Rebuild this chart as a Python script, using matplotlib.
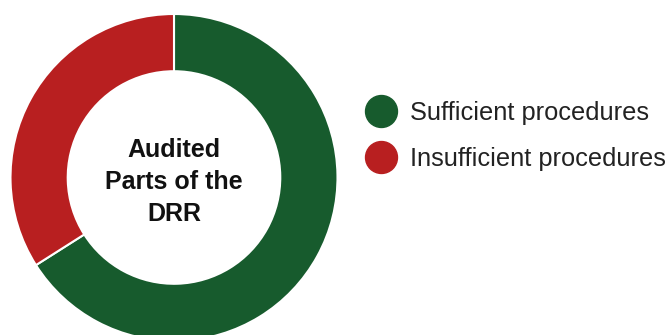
import matplotlib
matplotlib.use("Agg")
import matplotlib.pyplot as plt
from matplotlib.lines import Line2D

plt.rcParams['font.family'] = ['Liberation Sans', 'DejaVu Sans']

# share of audited parts of the DRR
labels = ["Sufficient procedures", "Insufficient procedures"]
values = [66, 34]
colors = ["#175b2d", "#b81f20"]
center_label = "Audited\nParts of the\nDRR"

W, H = 671, 335
fig = plt.figure(figsize=(W / 100, H / 100), dpi=100)

# donut: centre at (174, 177.5) px, outer radius 163.5 px
cx, cy, r = 174, 177.5, 163.5
ax = fig.add_axes([(cx - r) / W, (H - cy - r) / H, 2 * r / W, 2 * r / H])
ax.pie(values, colors=colors, startangle=90, counterclock=False, radius=1,
       wedgeprops=dict(width=0.35, edgecolor="white", linewidth=1.5))
ax.set_xlim(-1, 1)
ax.set_ylim(-1, 1)
ax.set_aspect("equal")
ax.axis("off")
ax.text(0, -0.025, center_label, ha="center", va="center", fontsize=18,
        fontweight="bold", color="#111111", linespacing=1.42)

handles = [Line2D([], [], linestyle="none", marker="o", markersize=23,
                  markerfacecolor=c, markeredgecolor=c) for c in colors]
fig.legend(handles, labels, loc="center left",
           bbox_to_anchor=(364.75 / W, 1 - 136 / H), frameon=False,
           fontsize=18.3, handlelength=1.28, handletextpad=0.5,
           labelspacing=0.86, borderpad=0, borderaxespad=0,
           labelcolor="#222222")

fig.savefig("out.png", dpi=100)
